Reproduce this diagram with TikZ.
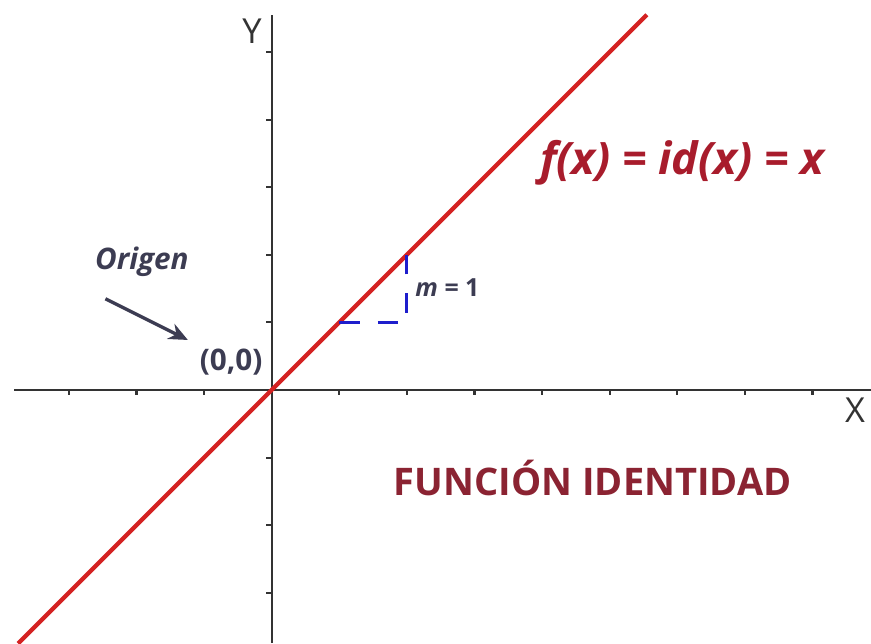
\documentclass[tikz,border=0pt]{standalone}
\usepackage{fontspec}
\setmainfont{Open Sans}
\usepackage{xcolor}
\usepackage{tikz}
\usetikzlibrary{arrows.meta, positioning}
\definecolor{axisgray}{HTML}{333333}
\definecolor{linered}{HTML}{D42222}
\definecolor{formred}{HTML}{A81C2C}
\definecolor{titlered}{HTML}{8B2332}
\definecolor{slopeblue}{HTML}{1E1ECC}
\definecolor{notegray}{HTML}{3C3C52}

\begin{document}
\begin{tikzpicture}[
    axis/.style={draw=axisgray, line width=0.9pt},
    tick/.style={draw=axisgray, line width=0.9pt},
    axislabel/.style={font=\fontsize{14.5}{16}\selectfont, text=axisgray, inner sep=0pt},
    graphline/.style={draw=linered, line width=1.8pt},
    slopebox/.style={draw=slopeblue, line width=1.3pt, dash pattern=on 0.3cm off 0.27cm},
    notelabel/.style={font=\fontsize{12.5}{14}\selectfont\bfseries, text=notegray, inner sep=0pt},
    pointer/.style={draw=notegray, line width=1.4pt, -{Stealth[length=8pt, width=7pt]}},
]
\useasboundingbox (-4.019,-3.743) rectangle (8.865,5.769);

% ── Axes ───────────────────────────────────────────────────────────────
\coordinate (O) at (0,0);
\draw[axis] (-3.81,0) -- (8.865,0);
\draw[axis] (0,-3.743) -- (0,5.547);
\foreach \k in {-3,-2,-1,1,2,3,4,5,6,7,8}
    \draw[tick] (\k,0) -- ++(0,-0.08);
\foreach \k in {-3,-2,-1,1,2,3,4,5}
    \draw[tick] (0,\k) -- ++(-0.08,0);
\node[axislabel] (ylab) at (-0.29,5.30) {Y};
\node[axislabel] (xlab) at (8.63,-0.30) {X};

% ── Graph of the identity ──────────────────────────────────────────────
\draw[graphline] (-3.75,-3.75) -- (5.55,5.55);
\draw[slopebox] (1,1) -- (2,1) -- (2,2);
\node[notelabel, font=\fontsize{10.5}{12}\selectfont\bfseries, anchor=west] (slope)
    at (2.12,1.52) {\textit{m} = 1};

% ── Labels ─────────────────────────────────────────────────────────────
\node[font=\fontsize{18.8}{21}\selectfont\bfseries\itshape, text=formred] (formula)
    at (6.07,3.36) {f(x) = id(x) = x};
\node[font=\fontsize{16}{18}\selectfont\bfseries, text=titlered] (title)
    at (4.75,-1.30) {FUNCIÓN IDENTIDAD};
\node[notelabel] (orig) at (-0.60,0.41) {(0,0)};
\node[notelabel, font=\fontsize{12.5}{14}\selectfont\bfseries\itshape] (origen)
    at (-1.92,1.89) {Origen};
\coordinate (from) at (-2.46,1.35);
\coordinate (to) at (-1.24,0.74);
\draw[pointer] (from) -- (to);

\end{tikzpicture}
\end{document}
